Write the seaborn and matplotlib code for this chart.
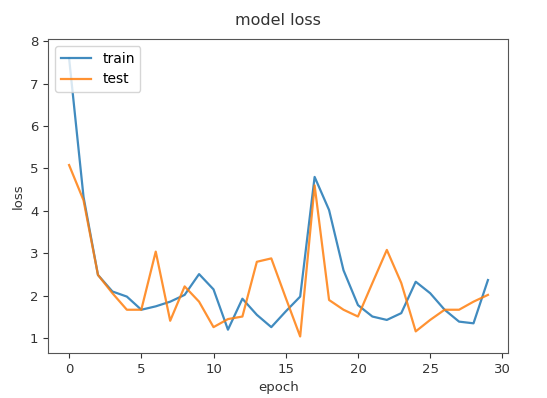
import matplotlib
matplotlib.use("Agg")
import matplotlib.pyplot as plt
import seaborn as sns
import pandas as pd

epochs = list(range(30))
train_loss = [7.6, 4.33, 2.49, 2.10, 1.98, 1.67, 1.75, 1.86, 2.02, 2.51,
              2.15, 1.20, 1.93, 1.55, 1.26, 1.63, 1.98, 4.80, 4.02, 2.60,
              1.78, 1.51, 1.43, 1.59, 2.33, 2.06, 1.67, 1.39, 1.35, 2.37]
test_loss = [5.08, 4.25, 2.49, 2.06, 1.67, 1.67, 3.04, 1.41, 2.22, 1.86,
             1.26, 1.45, 1.51, 2.80, 2.88, 1.95, 1.04, 4.60, 1.90, 1.67,
             1.51, 2.30, 3.08, 2.30, 1.16, 1.43, 1.67, 1.67, 1.86, 2.02]
series_names = ["train", "test"]
x_ticks = [0, 5, 10, 15, 20, 25, 30]
y_ticks = [1, 2, 3, 4, 5, 6, 7, 8]

df = pd.DataFrame({
    "epoch": epochs * 2,
    "loss": train_loss + test_loss,
    "series": [series_names[0]] * len(epochs) + [series_names[1]] * len(epochs),
})

fig = plt.figure(figsize=(5.47, 3.98), dpi=100)
ax = fig.add_axes([0.088, 0.113, 0.841, 0.789])
sns.lineplot(data=df, x="epoch", y="loss", hue="series",
             palette=["#1f77b4", "#ff7f0e"], ax=ax, linewidth=1.6, alpha=0.85)

ax.set_xticks(x_ticks)
ax.set_yticks(y_ticks)
ax.set_xlim(-1.45, 30.4)
ax.set_ylim(0.65, 8.05)
ax.tick_params(labelsize=9.5, colors="#333333")
for s in ax.spines.values():
    s.set_color("#555555")
ax.set_title("model loss", fontsize=11.5, color="#333333", pad=10)
ax.set_xlabel("epoch", fontsize=9.5, color="#333333")
ax.set_ylabel("loss", fontsize=9.5, color="#333333")
leg = ax.legend(loc="upper left", fontsize=10, frameon=True, handlelength=2.2)
leg.set_title(None)

fig.savefig("out.png", dpi=100)
